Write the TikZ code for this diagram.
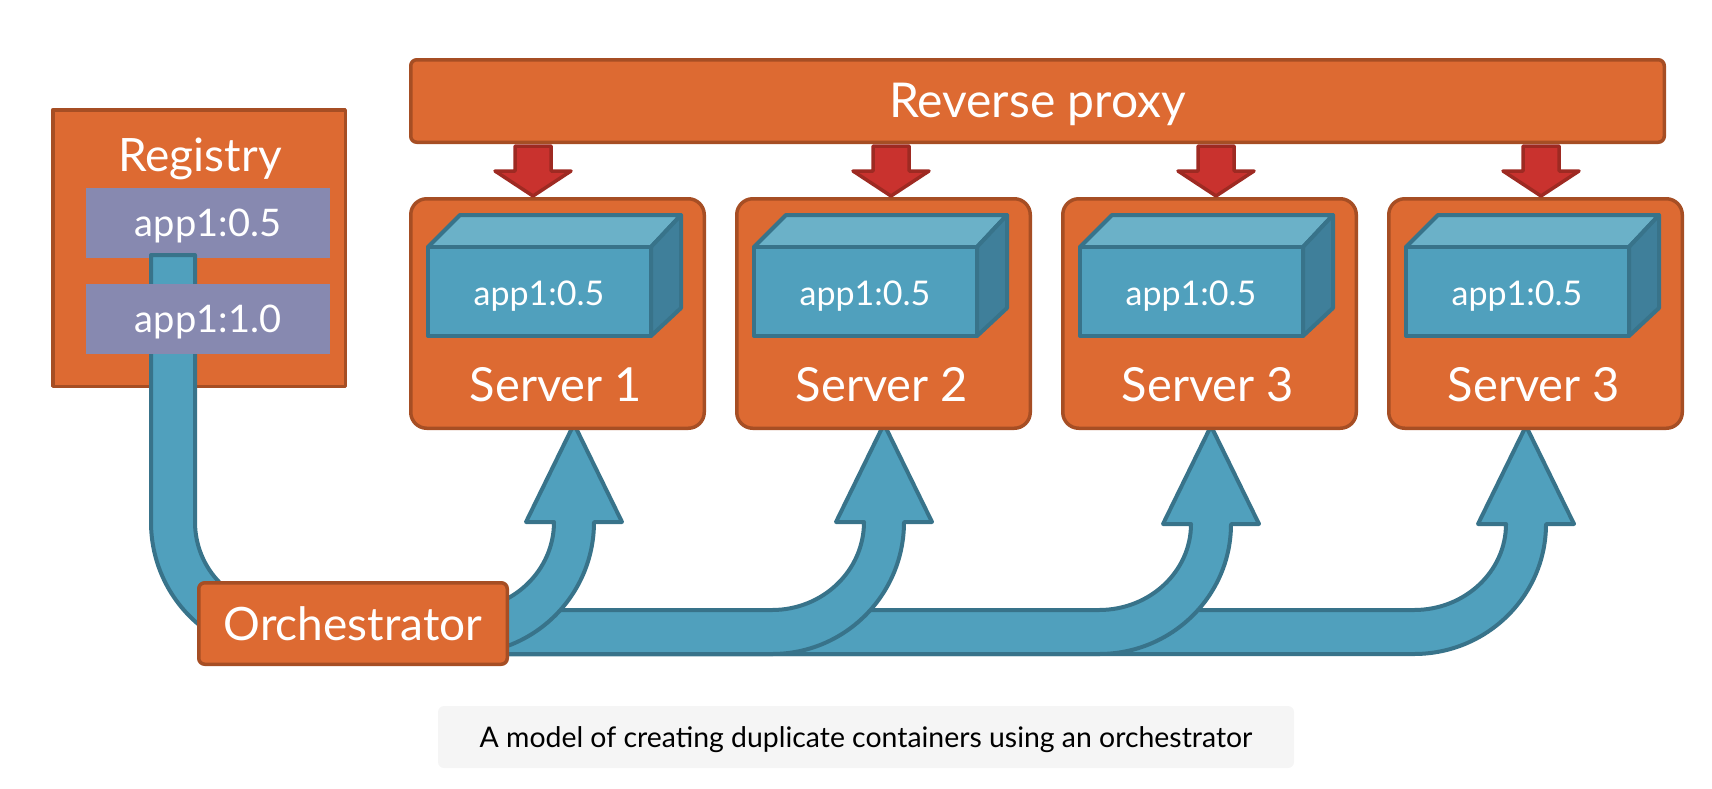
\documentclass[tikz,border=0pt]{standalone}
\usepackage{fontspec}
\setmainfont{Lato}
\definecolor{rust}{HTML}{DD6A32}
\definecolor{rustdark}{HTML}{A64E24}
\definecolor{steel}{HTML}{50A0BD}
\definecolor{steeldark}{HTML}{38738A}
\definecolor{steellight}{HTML}{6BB1C8}
\definecolor{steelside}{HTML}{3F7F9A}
\definecolor{slate}{HTML}{8789B0}
\definecolor{brick}{HTML}{C9322E}
\definecolor{brickdark}{HTML}{9E2A22}
\begin{document}
\begin{tikzpicture}[x=0.5pt, y=-0.5pt, line join=round, box/.style={draw=rustdark, fill=rust, line width=1.75pt, inner sep=0pt, text=white, anchor=north west}, tag/.style={fill=slate, inner sep=0pt, minimum width=122pt, minimum height=35pt, text=white, text depth=0pt, font=\fontsize{19}{23}\selectfont}, fat/.style={draw=steeldark, fill=steel, line width=2pt}, drop/.style={draw=brickdark, fill=brick, line width=1.75pt}, cubeface/.style={draw=steeldark, line width=2pt}]
	\useasboundingbox (0,0) rectangle (1712,788);
	% pipes out of the orchestrator, last one first
	\foreach \r/\b/\t/\h in {1546/524/426/610, 1231/524/426/610, 904/522/424/610, 594/522/424/610} {
		\draw[fat] (400,\h) -- ({\r-132},\h) arc[start angle=90, end angle=0, x radius=92, y radius={\h-\b}] -- ({\r-68},\b) -- ({\r-20},\t) -- ({\r+28},\b) -- (\r,\b) arc[start angle=0, end angle=90, x radius=132, y radius={654-\b}] -- (400,654) -- cycle;
	}
	% registry
	\node[box, minimum width=146.25pt, minimum height=138.25pt] (registry) at (51,108) {};
	\node[text=white, font=\fontsize{23}{27}\selectfont] (registrylabel) at (200,159) {Registry};
	\node[tag] (tagold) at (208,223) {app1:0.5};
	\draw[fat] (151,255) -- (195,255) -- (195,522) arc[start angle=180, end angle=90, x radius=85, y radius=86] -- (280,654) arc[start angle=90, end angle=180, x radius=129, y radius=132] -- cycle;
	\node[tag] (tagnew) at (208,319) {app1:1.0};
	\node[box, rounded corners=3pt, minimum width=154.25pt, minimum height=40.75pt, font=\fontsize{23}{27}\selectfont] (orchestrator) at (197,581) {Orchestrator};
	% reverse proxy
	\node[box, rounded corners=3pt, minimum width=626.75pt, minimum height=41.25pt, text depth=1pt, font=\fontsize{24}{28}\selectfont] (proxy) at (409,58) {Reverse proxy};
	% servers
	\foreach \s/\n/\a in {0/1/533, 1/2/891, 2/3/1216, 3/3/1541} {
		\pgfmathsetmacro{\sx}{409+326*\s}
		\node[box, rounded corners=8pt, minimum width=146.75pt, minimum height=114.75pt] (server\s) at (\sx,197) {};
		\draw[drop] (\a-18,146) -- (\a+18,146) -- (\a+18,171) -- (\a+38,171) -- (\a,196) -- (\a-38,171) -- (\a-18,171) -- cycle;
		\draw[cubeface, fill=steellight] (\sx+19,247) -- (\sx+51,215) -- (\sx+272,215) -- (\sx+242,247) -- cycle;
		\draw[cubeface, fill=steelside] (\sx+242,247) -- (\sx+272,215) -- (\sx+272,308) -- (\sx+242,336) -- cycle;
		\draw[cubeface, fill=steel] (\sx+19,247) rectangle (\sx+242,336);
		\node[text=white, font=\fontsize{17}{20}\selectfont] (app\s) at (\sx+130,296) {app1:0.5};
		\node[text=white, font=\fontsize{23.5}{28}\selectfont] (name\s) at (\sx+147,385) {Server \n};
	}
	\node[fill=black!4, rounded corners=3pt, minimum width=428pt, minimum height=31pt, inner sep=0pt, text depth=0pt, font=\fontsize{14.2}{17}\selectfont] (caption) at (866,737) {A model of creating duplicate containers using an orchestrator};
\end{tikzpicture}
\end{document}
